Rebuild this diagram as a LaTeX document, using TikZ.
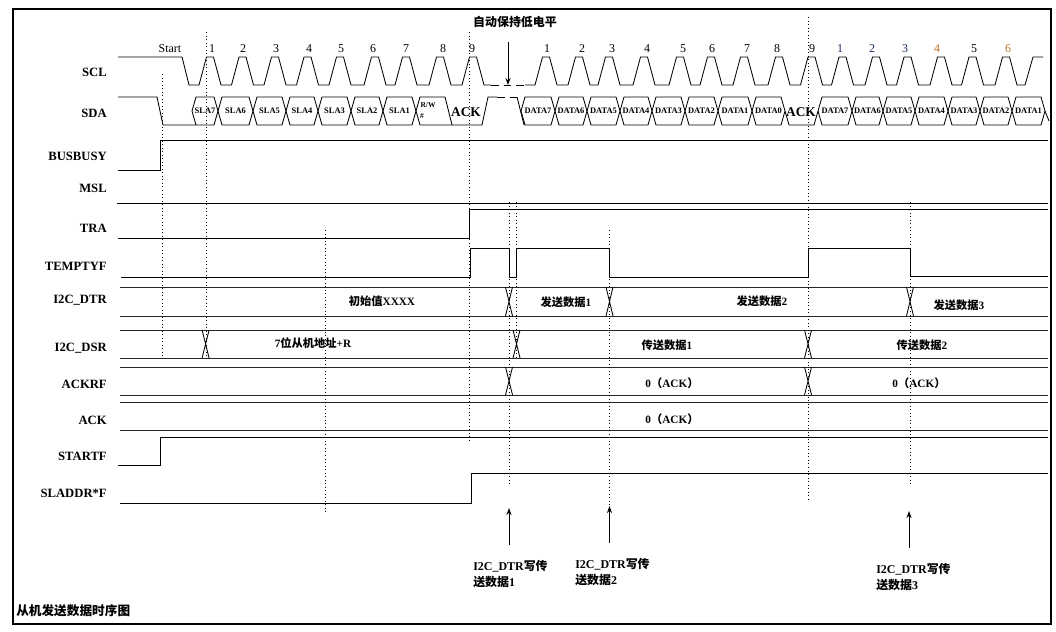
\documentclass[tikz,border=0pt]{standalone}
\usepackage{fontspec}
\setmainfont{Liberation Serif}
\newfontfamily\cjk{Noto Sans CJK SC}
\newcommand{\zhb}[1]{{\cjk\bfseries #1}}
\usepackage{tikz}
\usetikzlibrary{positioning,arrows.meta}
\definecolor{numblue}{RGB}{25,45,95}
\definecolor{numorange}{RGB}{185,110,40}

\begin{document}
\begin{tikzpicture}[x=0.025cm, y=-0.025cm, >={Stealth[length=5pt,width=3.6pt]}, sig/.style={line width=0.6pt}, lane/.style={line width=0.7pt, black!85}, guide/.style={dotted, line width=0.5pt}, signame/.style={anchor=east, inner sep=0pt, font=\fontsize{9}{10}\selectfont\bfseries}, cell/.style={inner sep=0pt, font=\fontsize{6}{6}\selectfont\bfseries}, num/.style={inner sep=0pt, font=\fontsize{8.5}{9}\selectfont}, txt/.style={inner sep=0pt, font=\fontsize{8}{9}\selectfont\bfseries}]

\useasboundingbox (0,0) rectangle (1056,631);
\draw[line width=0.8pt] (13,9) rectangle (1051,624);

\foreach \y/\n/\t in {72/scl/SCL, 113/sda/SDA, 156/busbusy/BUSBUSY, 188/msl/MSL, 228/tra/TRA, 266/temptyf/TEMPTYF, 300/dtr/I2C\_DTR, 348/dsr/I2C\_DSR, 384/ackrf/ACKRF, 420/ack/ACK, 456/startf/STARTF, 493/sladdr/SLADDR*F}
 \node[signame] (\n) at (107,\y) {\t};

\foreach \x/\t/\c [count=\i] in {170/Start/black, 212/1/black, 243/2/black, 276/3/black, 309/4/black, 341/5/black, 373/6/black, 406/7/black, 443/8/black, 472/9/black, 547/1/black, 582/2/black, 612/3/black, 647/4/black, 683/5/black, 712/6/black, 747/7/black, 777/8/black, 812/9/black, 840/1/numblue, 872/2/numblue, 905/3/numblue, 937/4/numorange, 974/5/black, 1008/6/numorange}
 \node[num, text=\c] (clk\i) at (\x,49) {\t};

\draw[sig] (118,57) -- (182,57) -- (189,85) foreach \c in {210,242.5,275,307.5,340,375,406,440,473} { -- ({\c-11},85) -- ({\c-3.5},57) -- ({\c+3.5},57) -- ({\c+11},85) } -- (491,85);
\draw[sig, dash pattern=on 5.5pt off 3.5pt] (491,85) -- (525,85);
\draw[sig] (525,85) foreach \c in {546,579,609,644,680,711,744,779,811.5,842.5,876,907.5,941,972.5,1006} { -- ({\c-11},85) -- ({\c-3.5},57) -- ({\c+3.5},57) -- ({\c+11},85) } -- (1025,85) -- (1033,57) -- (1043,57);

\draw[sig] (118,97) -- (157,97) -- (163,125) -- (196,125);
\foreach \a/\b/\t [count=\i] in {192/218/SLA7, 218/253/SLA6, 253/286/SLA5, 286/318/SLA4, 318/351/SLA3, 351/383/SLA2, 383/416/SLA1, 521/555/DATA7, 555/587/DATA6, 587/620/DATA5, 620/652/DATA4, 652/685/DATA3, 685/718/DATA2, 718/752/DATA1, 752/785/DATA0, 818/852/DATA7, 852/883/DATA6, 883/915/DATA5, 915/948/DATA4, 948/980/DATA3, 980/1012/DATA2, 1012/1045/DATA1}
{
 \draw[sig] (\a,111) -- ({\a+4},97) -- ({\b-4},97) -- (\b,111) -- ({\b-4},125) -- ({\a+4},125) -- cycle;
 \node[cell] (bit\i) at ({(\a+\b)/2},111) {\t};
}
\draw[sig] (416,111) -- (420,97) -- (445,97) -- (452,125);
\draw[sig] (416,111) -- (420,125) -- (482,125) -- (488,97) -- (497,97);
\draw[sig, dash pattern=on 5.5pt off 3.5pt] (497,97) -- (517,97);
\draw[sig] (517,97) -- (524,125);
\draw[sig] (785,111) -- (789,125) -- (814,125) -- (818,111);
\draw[sig] (1045,111) -- (1049,121);
\node[cell, font=\fontsize{5.3}{5}\selectfont\bfseries] (rw) at (428,105) {R/W};
\node[cell, font=\fontsize{5.3}{5}\selectfont\bfseries] (rwhash) at (422,116) {\#};
\node[inner sep=0pt, font=\fontsize{9.5}{10}\selectfont\bfseries] (ackone) at (466,112) {ACK};
\node[inner sep=0pt, font=\fontsize{9.5}{10}\selectfont\bfseries] (acktwo) at (801,112) {ACK};

\draw[sig] (118,170) -- (160,170) -- (160,140) -- (1048,140);
\draw[sig] (117,203) -- (1048,203);
\draw[sig] (118,238) -- (469,238) -- (469,209.5) -- (1048,209.5);
\draw[sig] (121,277) -- (470,277) -- (470,248) -- (509,248) -- (509,277) -- (516.5,277) -- (516.5,248) -- (609.5,248) -- (609.5,277) -- (808,277) -- (808,248) -- (910,248) -- (910,276) -- (1048,276);

\foreach \t/\b in {287/316, 330/358, 367/395, 402/430}
 \draw[lane] (120,\t) -- (1048,\t) (120,\b) -- (1048,\b);
\foreach \x/\t/\b in {509/287/316, 609.5/287/316, 910/287/316, 205.6/330/358, 516.5/330/358, 808/330/358, 509/367/395, 808/367/395}
 \draw[sig] ({\x-3.5},\t) -- ({\x+3.5},\b) ({\x-3.5},\b) -- ({\x+3.5},\t);

\draw[sig] (118,465) -- (160,465) -- (160,437) -- (1048,437);
\draw[sig] (120,503) -- (471,503) -- (471,473) -- (1048,473);

\foreach \x/\a/\b in {162/74/358, 206/32/358, 325/230/513, 469.5/32/442, 509/202/485, 516.5/202/358, 609.5/230/505, 808/17/500, 910/202/485}
 \draw[guide] (\x,\a) -- (\x,\b);

\foreach \x/\y/\t [count=\i] in {382/301/\zhb{初始值}XXXX, 566/302/\zhb{发送数据}1, 762/301/\zhb{发送数据}2, 959/305/\zhb{发送数据}3, 313/343/7\zhb{位从机地址}+R, 667/345/\zhb{传送数据}1, 922/345/\zhb{传送数据}2, 672/383/0\zhb{（}ACK\zhb{）}, 919/383/0\zhb{（}ACK\zhb{）}, 672/419/0\zhb{（}ACK\zhb{）}}
 \node[txt] (val\i) at (\x,\y) {\t};

\node[inner sep=0pt, font=\fontsize{8.5}{9}\selectfont] (hold) at (515,22) {\zhb{自动保持低电平}};
\coordinate (holdtop) at (508,42);
\coordinate (holdtip) at (508,85);
\draw[->, sig] (holdtop) -- (holdtip);

\foreach \x/\y/\lx/\ly/\n in {509/545/473/574/1, 609.5/543/575/572/2, 909/548/876/577/3}
{
 \coordinate (wtail\n) at (\x,\y);
 \coordinate (wtip\n) at (\x,{\y-37});
 \draw[->, sig] (wtail\n) -- (wtip\n);
 \node[anchor=west, align=left, inner sep=0pt, font=\fontsize{8.5}{11.3}\selectfont\bfseries] (wr\n) at (\lx,\ly) {I2C\_DTR\zhb{写传}\\\zhb{送数据}\n};
}

\node[anchor=west, inner sep=0pt, font=\fontsize{9}{10}\selectfont] (caption) at (16,611) {\zhb{从机发送数据时序图}};
\end{tikzpicture}
\end{document}
